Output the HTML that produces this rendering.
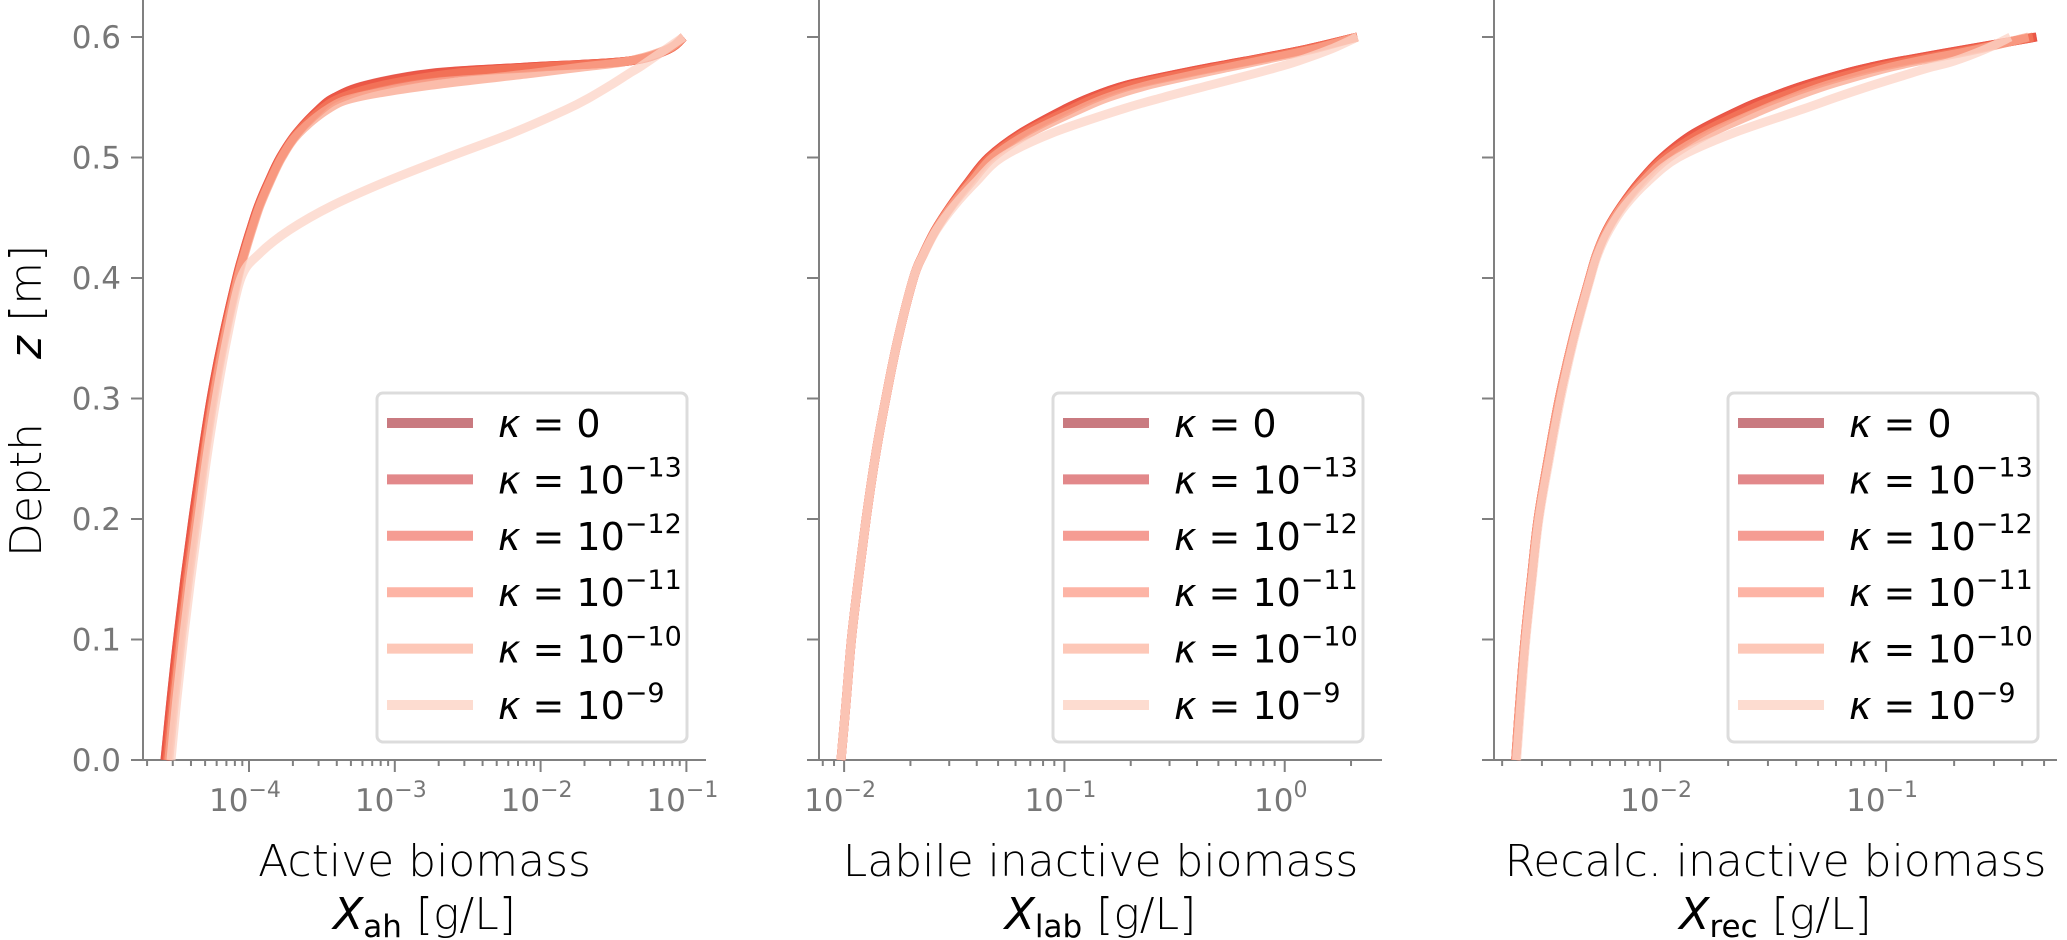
<!DOCTYPE html>
<html><head><meta charset="utf-8"><style>
html,body{margin:0;padding:0;background:#fff;}
svg{display:block;font-family:"DejaVu Sans","Liberation Sans",sans-serif;}
</style></head><body>
<svg id="chart" width="2067" height="940" viewBox="0 0 2067 940" xmlns="http://www.w3.org/2000/svg"></svg>
<script>
// depth grid [m]
const depths = [0,0.05,0.1,0.15,0.2,0.25,0.3,0.35,0.4,0.42,0.44,0.46,0.48,0.5,0.52,0.54,0.55,0.56,0.57,0.575,0.58,0.59,0.6];
const kappaLabels = ["0","−13","−12","−11","−10","−9"];
// Active biomass, log10 of concentration [g/L]
const ahK0   = [-4.576,-4.535,-4.49,-4.44,-4.385,-4.325,-4.26,-4.18,-4.085,-4.04,-3.99,-3.935,-3.865,-3.785,-3.675,-3.52,-3.41,-3.2,-2.75,-2.1,-1.4,-1.12,-1.02];
const ahK13  = [-4.576,-4.535,-4.49,-4.44,-4.385,-4.325,-4.26,-4.18,-4.085,-4.04,-3.99,-3.935,-3.865,-3.785,-3.675,-3.52,-3.41,-3.19,-2.73,-2.1,-1.4,-1.12,-1.02];
const ahK12  = [-4.57,-4.53,-4.485,-4.435,-4.38,-4.32,-4.255,-4.178,-4.083,-4.038,-3.988,-3.933,-3.863,-3.783,-3.672,-3.515,-3.4,-3.17,-2.7,-2.08,-1.4,-1.12,-1.02];
const ahK11  = [-4.56,-4.52,-4.475,-4.425,-4.37,-4.312,-4.25,-4.172,-4.08,-4.035,-3.985,-3.93,-3.86,-3.78,-3.67,-3.5,-3.36,-3.08,-2.58,-2.0,-1.4,-1.12,-1.02];
const ahK10  = [-4.55,-4.51,-4.465,-4.415,-4.36,-4.305,-4.242,-4.166,-4.075,-4.03,-3.98,-3.925,-3.855,-3.775,-3.66,-3.46,-3.26,-2.75,-2.05,-1.72,-1.4,-1.13,-1.02];
const ahK9   = [-4.535,-4.495,-4.45,-4.4,-4.345,-4.29,-4.225,-4.15,-4.055,-3.93,-3.72,-3.43,-3.06,-2.64,-2.2,-1.82,-1.66,-1.52,-1.39,-1.32,-1.26,-1.14,-1.02];
// Labile inactive biomass, log10
const labK0  = [-2.014,-1.99,-1.967,-1.935,-1.9,-1.86,-1.811,-1.755,-1.685,-1.64,-1.585,-1.515,-1.435,-1.345,-1.2,-1.0,-0.88,-0.72,-0.47,-0.33,-0.18,0.1,0.33];
const labK13 = [-2.014,-1.99,-1.967,-1.935,-1.9,-1.86,-1.811,-1.755,-1.685,-1.64,-1.585,-1.515,-1.435,-1.345,-1.2,-1.0,-0.88,-0.72,-0.47,-0.33,-0.18,0.1,0.33];
const labK12 = [-2.014,-1.99,-1.967,-1.935,-1.9,-1.86,-1.811,-1.755,-1.685,-1.64,-1.585,-1.515,-1.433,-1.342,-1.195,-0.99,-0.87,-0.71,-0.46,-0.32,-0.17,0.1,0.33];
const labK11 = [-2.014,-1.99,-1.967,-1.935,-1.9,-1.86,-1.811,-1.755,-1.685,-1.64,-1.585,-1.513,-1.43,-1.337,-1.185,-0.97,-0.85,-0.69,-0.44,-0.3,-0.16,0.11,0.33];
const labK10 = [-2.014,-1.99,-1.967,-1.935,-1.9,-1.86,-1.811,-1.755,-1.685,-1.64,-1.583,-1.51,-1.42,-1.325,-1.16,-0.93,-0.8,-0.62,-0.38,-0.25,-0.12,0.13,0.33];
const labK9  = [-2.014,-1.99,-1.967,-1.935,-1.9,-1.86,-1.811,-1.755,-1.685,-1.638,-1.58,-1.5,-1.4,-1.285,-1.06,-0.74,-0.55,-0.34,-0.13,-0.03,0.06,0.21,0.33];
// Recalcitrant inactive biomass, log10
const recK0  = [-2.639,-2.62,-2.598,-2.57,-2.54,-2.495,-2.446,-2.385,-2.312,-2.28,-2.235,-2.17,-2.09,-1.99,-1.85,-1.64,-1.51,-1.36,-1.18,-1.07,-0.94,-0.64,-0.334];
const recK13 = [-2.639,-2.62,-2.598,-2.57,-2.54,-2.495,-2.446,-2.385,-2.312,-2.28,-2.235,-2.17,-2.09,-1.99,-1.85,-1.64,-1.51,-1.36,-1.18,-1.07,-0.94,-0.64,-0.334];
const recK12 = [-2.639,-2.62,-2.598,-2.57,-2.54,-2.495,-2.446,-2.385,-2.312,-2.28,-2.235,-2.17,-2.088,-1.987,-1.84,-1.63,-1.5,-1.35,-1.17,-1.06,-0.93,-0.63,-0.34];
const recK11 = [-2.639,-2.62,-2.598,-2.57,-2.54,-2.495,-2.446,-2.385,-2.312,-2.28,-2.235,-2.168,-2.085,-1.98,-1.82,-1.6,-1.47,-1.32,-1.14,-1.03,-0.9,-0.61,-0.35];
const recK10 = [-2.639,-2.62,-2.598,-2.57,-2.54,-2.495,-2.446,-2.385,-2.312,-2.28,-2.232,-2.165,-2.075,-1.96,-1.78,-1.54,-1.41,-1.26,-1.08,-0.98,-0.86,-0.59,-0.37];
const recK9  = [-2.635,-2.615,-2.594,-2.566,-2.536,-2.49,-2.44,-2.38,-2.308,-2.275,-2.225,-2.155,-2.055,-1.92,-1.68,-1.37,-1.22,-1.06,-0.89,-0.8,-0.7,-0.56,-0.45];
const yTicks = [0,0.1,0.2,0.3,0.4,0.5,0.6];
const yTickLabels = ["0.0","0.1","0.2","0.3","0.4","0.5","0.6"];

const NS="http://www.w3.org/2000/svg";
const svg=document.getElementById('chart');
function mk(tag,attrs,parent){const e=document.createElementNS(NS,tag);for(const k in attrs)e.setAttribute(k,attrs[k]);(parent||svg).appendChild(e);return e;}

const curveColors=['#dc3f35','#e64a3c','#ee5a45','#f47a5e','#f9a68e','#fcd3c5'];
const legendColors=['#c97a80','#e2888a','#f59c93','#fdb4a5','#fdc8b8','#fddcd0'];
const Y0=760, YPER=1205;
function yScale(z){return Y0-z*YPER;}

const panels=[
 {name:'active-biomass',left:143,lmin:-4.727,decade:145.8,decs:[-4,-3,-2,-1],series:[ahK0,ahK13,ahK12,ahK11,ahK10,ahK9],t1:'Active biomass',sub:'ah',ylabels:true},
 {name:'labile-inactive-biomass',left:819,lmin:-2.114,decade:220.3,decs:[-2,-1,0],series:[labK0,labK13,labK12,labK11,labK10,labK9],t1:'Labile inactive biomass',sub:'lab',ylabels:false},
 {name:'recalc-inactive-biomass',left:1494,lmin:-2.735,decade:226,decs:[-2,-1],series:[recK0,recK13,recK12,recK11,recK10,recK9],t1:'Recalc. inactive biomass',sub:'rec',ylabels:false}
];
const W=563;

function smoothPath(pts){
 let d='M'+pts[0][0].toFixed(1)+','+pts[0][1].toFixed(1);
 for(let i=0;i<pts.length-1;i++){
  const p0=pts[i-1]||pts[i],p1=pts[i],p2=pts[i+1],p3=pts[i+2]||p2;
  const c1=[p1[0]+(p2[0]-p0[0])/6,p1[1]+(p2[1]-p0[1])/6];
  const c2=[p2[0]-(p3[0]-p1[0])/6,p2[1]-(p3[1]-p1[1])/6];
  d+=' C'+c1[0].toFixed(1)+','+c1[1].toFixed(1)+' '+c2[0].toFixed(1)+','+c2[1].toFixed(1)+' '+p2[0].toFixed(1)+','+p2[1].toFixed(1);
 }
 return d;
}

panels.forEach(p=>{
 const g=mk('g',{});
 
 
 const xl=lv=>p.left+(lv-p.lmin)*p.decade;
 const right=p.left+W;
 const ys=mk('line',{x1:p.left,y1:0,x2:p.left,y2:Y0,stroke:'#808080','stroke-width':2},g);
 
 const xsl=mk('line',{x1:p.left,y1:Y0,x2:right,y2:Y0,stroke:'#808080','stroke-width':2},g);
 
 yTicks.forEach((t,i)=>{
  const yy=yScale(t);
  const tk=mk('line',{x1:p.left-12,y1:yy,x2:p.left,y2:yy,stroke:'#808080','stroke-width':2},g);
  
  if(p.ylabels){
   const tl=mk('text',{x:p.left-22,y:yy+11,'text-anchor':'end','font-size':31,fill:'#777'},g);
   
   tl.textContent=yTickLabels[i];
  }
 });
 const lmax=p.lmin+W/p.decade;
 for(let d=Math.floor(p.lmin);d<=Math.ceil(lmax);d++){
  for(let m=1;m<10;m++){
   const lv=d+Math.log10(m);
   if(lv<p.lmin||lv>lmax)continue;
   const xx=xl(lv);
   const tk=mk('line',{x1:xx,y1:Y0,x2:xx,y2:Y0+(m===1?12:6),stroke:'#808080','stroke-width':2},g);
   
  }
 }
 p.decs.forEach(d=>{
  const xx=xl(d);
  const tl=mk('text',{x:xx-4,y:811,'text-anchor':'middle','font-size':31,fill:'#777'},g);
  
  tl.textContent='10';
  const sp=mk('tspan',{dy:-14,'font-size':22},tl);
  sp.textContent=(d<0?'−':'')+Math.abs(d);
 });
 p.series.forEach((s,si)=>{
  const pts=s.map((v,i)=>[xl(v),yScale(depths[i])]);
  const path=mk('path',{d:smoothPath(pts),fill:'none',stroke:curveColors[si],'stroke-width':9,'stroke-opacity':0.75,'stroke-linejoin':'round'},g);
  
  
 });
 const lx=p.left+234, ly=393;
 const lg=mk('g',{},g);
 
 mk('rect',{x:lx,y:ly,width:310,height:349,rx:6,fill:'#fff','fill-opacity':0.85,stroke:'#dcdcdc','stroke-width':3},lg);
 kappaLabels.forEach((k,i)=>{
  const cy=423+56.4*i;
  const e=mk('g',{},lg);
  
  mk('line',{x1:lx+10,y1:cy,x2:lx+96,y2:cy,stroke:legendColors[i],'stroke-width':10},e);
  const t=mk('text',{x:lx+121,y:cy+14,'font-size':38,fill:'#000'},e);
  const kap=mk('tspan',{'font-style':'italic'},t);kap.textContent='κ';
  const eq=mk('tspan',{},t);eq.textContent=' = '+(i===0?'0':'10');
  if(i>0){const sp=mk('tspan',{dy:-17,'font-size':27},t);sp.textContent=k;}
 });
 const cx=p.left+W/2;
 const xl1=mk('text',{x:cx,y:876,'text-anchor':'middle','font-size':44,fill:'#000','font-weight':300},g);
 
 xl1.textContent=p.t1;
 const xl2=mk('text',{x:cx,y:929,'text-anchor':'middle','font-size':44,fill:'#000'},g);
 
 const xx1=mk('tspan',{'font-style':'italic'},xl2);xx1.textContent='X';
 const xx2=mk('tspan',{dy:8,'font-size':31},xl2);xx2.textContent=p.sub;
 const xx3=mk('tspan',{dy:-8,'font-weight':300},xl2);xx3.textContent=' [g/L]';
});
const yt=mk('text',{x:0,y:0,transform:'translate(41,557) rotate(-90)','font-size':44,fill:'#000','font-weight':300});


const t1=mk('tspan',{},yt);t1.textContent='Depth';
const t2=mk('tspan',{dx:64,'font-style':'italic'},yt);t2.textContent='z';
const t3=mk('tspan',{},yt);t3.textContent=' [m]';
</script>
</body></html>
